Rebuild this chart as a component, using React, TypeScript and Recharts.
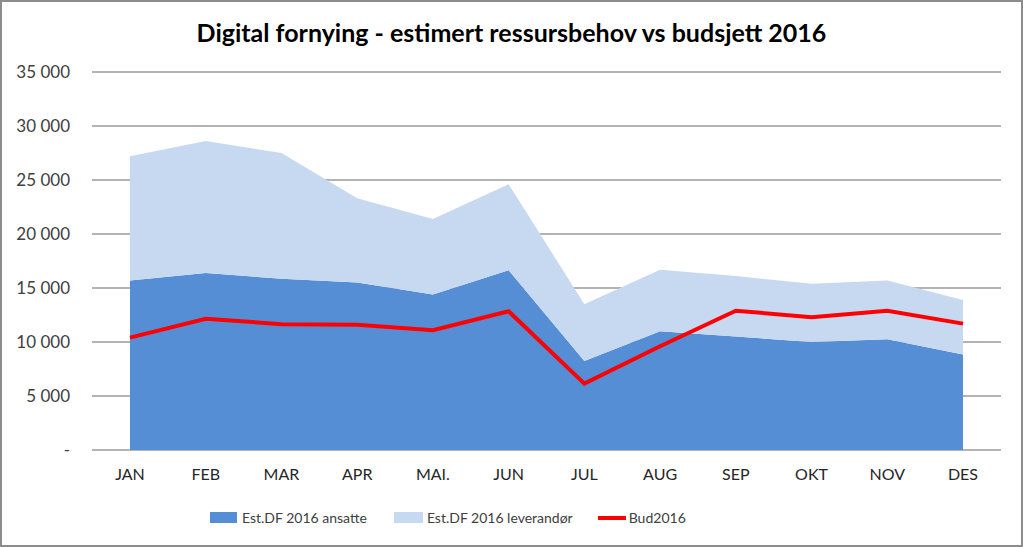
import React from 'react';
import { AreaChart, Area, Line, XAxis, YAxis, CartesianGrid } from 'recharts';

const months = ['JAN', 'FEB', 'MAR', 'APR', 'MAI.', 'JUN', 'JUL', 'AUG', 'SEP', 'OKT', 'NOV', 'DES'];
const ansatte = [15700, 16400, 15850, 15500, 14400, 16650, 8250, 11000, 10500, 10000, 10250, 8850];
const leverandor = [11500, 12200, 11650, 7800, 7000, 7950, 5250, 5700, 5600, 5400, 5450, 5050];
const bud2016 = [10400, 12150, 11650, 11600, 11100, 12850, 6150, 9600, 12900, 12300, 12900, 11700];
const yTicks = [0, 5000, 10000, 15000, 20000, 25000, 30000, 35000];

const data = months.map((m, i) => ({
  name: m,
  ansatte: ansatte[i],
  leverandor: leverandor[i],
  bud: bud2016[i],
}));

const DARK = '#558ED5';
const LIGHT = '#C6D9F1';
const RED = '#FF0000';
const FONT = 'Lato, "Open Sans", sans-serif';

const fmt = (v: number) => (v === 0 ? '-' : v.toLocaleString('en-US').replace(',', ' '));

const LegendRow = () => (
  <div
    style={{
      position: 'absolute',
      left: 208,
      top: 507,
      display: 'flex',
      alignItems: 'center',
      fontFamily: FONT,
      fontSize: 14,
      color: '#404040',
    }}
  >
    <span style={{ width: 27, height: 11, background: DARK, marginRight: 5 }} />
    <span style={{ marginRight: 27 }}>Est.DF 2016 ansatte</span>
    <span style={{ width: 29, height: 11, background: LIGHT, marginRight: 4 }} />
    <span style={{ marginRight: 25 }}>Est.DF 2016 leverandør</span>
    <span style={{ width: 28, height: 4, background: RED, marginRight: 3 }} />
    <span>Bud2016</span>
  </div>
);

export default function App() {
  return (
    <div
      style={{
        position: 'absolute',
        left: 0,
        top: 0,
        width: 1023,
        height: 547,
        background: '#fff',
        boxSizing: 'border-box',
        border: '2px solid #8c8c8c',
      }}
    >
      <div
        style={{
          position: 'absolute',
          left: 0,
          top: 15,
          width: 1019,
          textAlign: 'center',
          fontFamily: FONT,
          fontWeight: 700,
          fontSize: 25,
          color: '#000',
        }}
      >
        Digital fornying - estimert ressursbehov vs budsjett 2016
      </div>
      <div style={{ position: 'absolute', left: -2, top: -2 }}>
        <AreaChart
          width={1023}
          height={547}
          data={data}
          margin={{ top: 72, right: 22, left: 0, bottom: 0 }}
        >
          <CartesianGrid vertical={false} stroke="#9a9a9a" strokeWidth={1.5} />
          <XAxis
            dataKey="name"
            height={97}
            padding={{ left: 38, right: 38 }}
            axisLine={false}
            tickLine={false}
            tickSize={0}
            tickMargin={19}
            tick={{ fill: '#262626', fontSize: 16, fontFamily: FONT }}
            interval={0}
          />
          <YAxis
            width={92}
            domain={[0, 35000]}
            ticks={yTicks}
            tickFormatter={fmt}
            axisLine={false}
            tickLine={false}
            tickSize={0}
            tickMargin={22}
            tick={{ fill: '#404040', fontSize: 17, fontFamily: FONT }}
          />
          <Area
            type="linear"
            dataKey="ansatte"
            stackId="est"
            stroke="none"
            fill={DARK}
            fillOpacity={1}
            isAnimationActive={false}
          />
          <Area
            type="linear"
            dataKey="leverandor"
            stackId="est"
            stroke="none"
            fill={LIGHT}
            fillOpacity={1}
            isAnimationActive={false}
          />
          <Line
            type="linear"
            dataKey="bud"
            stroke={RED}
            strokeWidth={4}
            dot={false}
            isAnimationActive={false}
          />
        </AreaChart>
      </div>
      <LegendRow />
    </div>
  );
}
